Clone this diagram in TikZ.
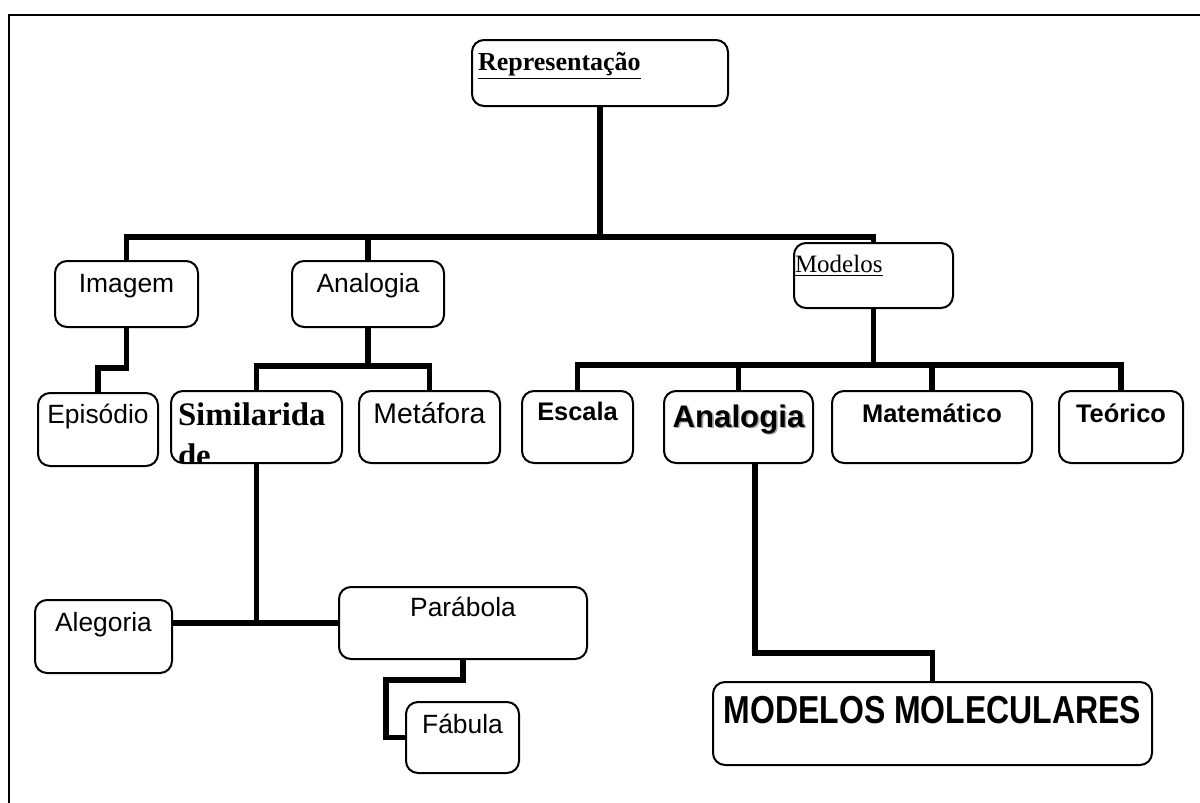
\documentclass[tikz,border=0pt]{standalone}
\usepackage{fontspec}
\setmainfont{Liberation Serif}
\newfontfamily\arial{Liberation Sans}
\newcommand{\fsz}[1]{\fontsize{#1}{#1}\selectfont}
\newcommand{\shadowtxt}[1]{\makebox[0pt][l]{\hspace{0.8pt}\raisebox{-0.8pt}{\color{black!35}#1}}#1}

\tikzset{
  box/.style={draw, rounded corners=6pt, line width=1pt, inner sep=0pt, align=center,
              font=\arial\fsz{13.2}},
  bbox/.style={box, font=\arial\bfseries\fsz{12.7}},
  simtxt/.style={draw=none, inner sep=0pt, minimum width=0pt, minimum height=0pt,
                 anchor=base west, font=\bfseries\fsz{16.4}},
  conn/.style={line width=2.75pt}
}

\begin{document}
\begin{tikzpicture}[x=0.5pt, y=-0.5pt]
                \useasboundingbox (0,0) rectangle (1200,803);
                \draw[line width=1pt] (1200,15) -- (9,15) -- (9,803);

                \node[box, font=\bfseries\fsz{13}, align=left, inner xsep=3pt, text width=122pt,
                      text height=15pt, text depth=18pt] (rep) at (600,73) {\underline{Representação}};
                \node[box, font=\fsz{12.5}, align=left, inner xsep=0.5pt, text width=78.5pt,
                      text height=14.5pt, text depth=18pt] (mod) at (873.5,275.5) {\underline{Modelos}};

                \node[box, minimum width=71.5pt, text height=15.5pt, text depth=17.5pt] (img) at (126.5,294) {Imagem};
                \node[box, minimum width=76pt, text height=15.5pt, text depth=17.5pt] (ana) at (368,294) {Analogia};

                \node[box, minimum width=60pt, text height=15pt, text depth=21.5pt] (epi) at (98,429.5) {Episódio};
                \node[box, minimum width=85.5pt, minimum height=36pt,
                      path picture={
                        \node[simtxt] at ([xshift=3pt, yshift=-17pt]path picture bounding box.north west) {Similarida};
                        \node[simtxt] at ([xshift=3pt, yshift=-37.5pt]path picture bounding box.north west) {de};
                      }] (sim) at (256.5,427) {};
                \node[box, font=\arial\fsz{14.2}, minimum width=70.5pt, text height=16pt, text depth=20pt] (met) at (429.5,427) {Metáfora};

                \node[bbox, minimum width=55.5pt, text height=14.5pt, text depth=21.5pt] (esc) at (577.5,427) {Escala};
                \node[bbox, font=\arial\bfseries\fsz{15.6}, minimum width=74.5pt, text height=18pt, text depth=18pt] (ana2) at (738.5,427) {\shadowtxt{Analogia}};
                \node[bbox, minimum width=100pt, text height=15.5pt, text depth=20.5pt] (mat) at (932,427) {Matemático};
                \node[bbox, minimum width=62pt, text height=15.5pt, text depth=20.5pt] (teo) at (1121,427) {Teórico};

                \node[box, minimum width=68.5pt, text height=15.5pt, text depth=21pt] (ale) at (103.5,636.5) {Alegoria};
                \node[box, minimum width=124pt, text height=14.5pt, text depth=21.5pt] (par) at (463,623) {Parábola};
                \node[box, minimum width=56.5pt, text height=15.5pt, text depth=20pt] (fab) at (462.5,737.5) {Fábula};
                \node[bbox, minimum width=219.5pt, text height=20.5pt, text depth=21pt] (mm) at (932.5,723.5)
                      {\fsz{19.5}\scalebox{0.82}[1]{MODELOS MOLECULARES}};

                \coordinate (bus1) at (0,237);
                \coordinate (bus2) at (0,365);
                \coordinate (bus3) at (0,366);
                \coordinate (ibend) at (98,368);
                \coordinate (fbend) at (386,680);
                \coordinate (mbend) at (755,653);

                \draw[conn] (img.north) |- (mod.north |- bus1) -- (mod.north);
                \foreach \n in {rep.south, ana.north}
                    {\draw[conn] (\n) -- (\n |- bus1);}
                \draw[conn] (img.south) |- (ibend) -- (epi.north);
                \draw[conn] (sim.north) |- (met.north |- bus3) -- (met.north);
                \draw[conn] (ana.south) -- (ana.south |- bus3);
                \draw[conn] (esc.north) |- (teo.north |- bus2) -- (teo.north);
                \foreach \n in {mod.south, ana2.north, mat.north}
                    {\draw[conn] (\n) -- (\n |- bus2);}
                \draw[conn] (sim.south) -- (sim.south |- par.west);
                \draw[conn] (ale.east |- par.west) -- (par.west);
                \draw[conn] (par.south) |- (fbend) |- (fab.west);
                \draw[conn] (mbend |- ana2.south) -- (mbend) -| (mm.north);
            \end{tikzpicture}
\end{document}
